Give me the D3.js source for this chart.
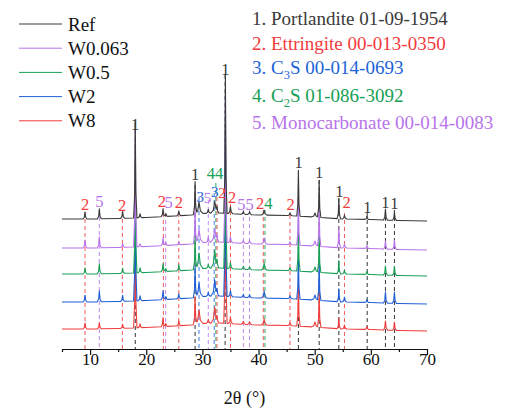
<!DOCTYPE html>
<html>
<head>
<meta charset="utf-8">
<script src="https://cdn.jsdelivr.net/npm/d3@7"></script>
<style>
  html, body { margin: 0; padding: 0; background: #fff; }
  svg { display: block; }
  svg text { font-family: "Liberation Serif", "Times New Roman", serif; }
</style>
</head>
<body>
<svg id="chart" width="505" height="409"></svg>
<script>
// ---- data ----
const seriesNames = ["Ref", "W0.063", "W0.5", "W2", "W8"];

// peak positions (2θ, degrees) and half widths shared by all patterns
const peakAngles = [9.1, 11.65, 15.8, 18.05, 18.9, 23.0, 23.5, 25.8, 28.7, 29.4, 31.05, 32.2, 32.6,
                    34.1, 35.0, 37.3, 38.4, 41.0, 45.6, 47.1, 50.05, 50.8, 54.3, 55.3, 59.3, 62.6, 64.2];
const peakHalfWidths = [0.35, 0.35, 0.35, 0.3, 0.35, 0.35, 0.3, 0.35, 0.3, 0.7, 0.4, 0.7, 0.3,
                        0.3, 0.4, 0.4, 0.4, 0.5, 0.4, 0.3, 0.6, 0.3, 0.3, 0.4, 0.35, 0.35, 0.35];

// peak intensities (a.u.) per pattern
const peaksRef    = [7, 10, 7, 97, 4, 8, 3, 5, 33, 12, 4, 12, 5, 139, 7, 3, 3, 5, 3, 45, 4, 37, 20, 4, 3, 11, 8];
const peaksW0063  = [8, 11, 4, 118, 3, 8, 3, 3, 35, 14, 5, 14, 5, 150, 6, 3, 3, 6, 3, 48, 5, 40, 20, 4, 3, 8, 9];
const peaksW05    = [6, 10, 5, 110, 5, 8, 3, 6, 34, 16, 4, 18, 6, 150, 6, 3, 3, 7, 3, 46, 5, 38, 13, 4, 3, 9, 9];
const peaksW2     = [7, 11, 6, 120, 5, 9, 3, 5, 32, 14, 4, 16, 5, 160, 6, 3, 3, 7, 3, 46, 5, 38, 13, 5, 3, 11, 11];
const peaksW8     = [6, 6, 4, 105, 4, 9, 3, 5, 28, 14, 4, 16, 5, 150, 6, 3, 3, 6, 3, 44, 5, 36, 11, 4, 3, 9, 8];
const seriesPeaks = [peaksRef, peaksW0063, peaksW05, peaksW2, peaksW8];

// amorphous background (a.u.), shared shape
const bgAngles = [5, 10, 15, 20, 25, 28, 30, 33, 36, 40, 45, 50, 55, 60, 65, 70];
const bgLevels = [0, 0, 0.5, 1.5, 3, 4, 5.5, 6, 5, 4, 3.5, 2, 0, -0.5, -1.5, -2];

// phase reference lines: 2θ, phase number, top (a.u.)
const refAngles = [9.1, 11.65, 15.75, 18.05, 23.05, 23.45, 25.8, 28.7, 29.4, 31.05, 32.1, 32.4, 32.6,
                   34.05, 35.0, 37.3, 38.4, 40.85, 41.15, 45.6, 47.1, 50.8, 54.3, 55.3, 59.35, 62.6, 64.2];
const refPhases = [2, 5, 2, 1, 2, 5, 2, 1, 3, 5, 3, 4, 2, 1, 2, 5, 5, 2, 4, 2, 1, 1, 1, 2, 1, 1, 1];
const refTops   = [137, 139, 137, 226, 136, 136, 136, 164, 152, 149, 156, 166, 152,
                   274, 145, 139, 139, 139, 139, 134, 179, 169, 151, 136, 136, 139, 139];

// peak labels: text, phase number, 2θ, baseline (a.u.), font size
const labelTexts  = ["2", "5", "2", "1", "2", "5", "2", "1", "3", "5", "3", "2", "44",
                     "2", "1", "55", "2", "4", "2", "1", "1", "1", "2", "1", "1", "1"];
const labelPhases = [2, 5, 2, 1, 2, 5, 2, 1, 3, 5, 3, 2, 4, 2, 1, 5, 2, 4, 2, 1, 1, 1, 2, 1, 1, 1];
const labelAngles = [9.1, 11.65, 15.7, 18.0, 22.8, 24.0, 25.8, 28.7, 29.6, 30.92, 32.22, 33.5, 32.25,
                     35.3, 34.1, 37.7, 40.3, 41.75, 45.7, 47.15, 50.8, 54.4, 55.7, 59.4, 62.6, 64.2];
const labelLevels = [139, 142, 138, 219, 142, 141, 141, 169, 147, 146, 152, 151, 170,
                     146, 274, 139, 140, 140, 139, 181, 171, 152, 141, 136, 141, 140];
const labelSizes  = [16.5, 16.5, 16.5, 16.5, 16.5, 16.5, 16.5, 16.5, 15, 15, 15, 15, 16.5,
                     16.5, 16.5, 16.5, 16.5, 16.5, 16.5, 16.5, 16.5, 16.5, 16.5, 16.5, 16.5, 16.5];

const xTicks = [10, 20, 30, 40, 50, 60, 70];
const xMinorTicks = [5, 15, 25, 35, 45, 55, 65];

// ---- styles ----
const FONT = "'Liberation Serif', 'Times New Roman', serif";
const seriesColors = ["#3a3a3a", "#b873ea", "#17a055", "#1f5fd6", "#f03c3c"];
const stackOffset = [130, 101, 75, 47, 20];
const phaseColors = { 1: "#3a3a3a", 2: "#f23b3b", 3: "#1c62d8", 4: "#17a055", 5: "#b873ea" };
const lineColors  = { 1: "#333333", 2: "#f25a5a", 3: "#3a7ae6", 4: "#2aa864", 5: "#c08af0" };

const svg = d3.select("#chart").attr("font-family", FONT);
const x = d3.scaleLinear().domain([5, 70]).range([62, 427]);
const y = d3.scaleLinear().domain([0, 340]).range([349, 9]);

// background level at a given angle
const bgAt = d3.scaleLinear().domain(bgAngles).range(bgLevels).clamp(true);

// build one pattern: background plus piecewise-linear peak profiles
function pattern(heights, offset) {
  const xs = new Set(bgAngles);
  peakAngles.forEach((p, i) => {
    const w = peakHalfWidths[i];
    [-1, -0.35, 0, 0.35, 1].forEach(f => xs.add(+(p + f * w).toFixed(4)));
  });
  const pts = Array.from(xs).sort((a, b) => a - b);
  return pts.map(t => {
    let v = offset + bgAt(t);
    peakAngles.forEach((p, i) => {
      const w = peakHalfWidths[i], h = heights[i];
      const d = Math.abs(t - p) / w;
      if (d < 1) {
        v += d <= 0.35 ? h - 0.75 * h * (d / 0.35) : 0.25 * h * (1 - d) / 0.65;
      }
    });
    return [t, v];
  });
}

// phase reference lines
const refG = svg.append("g");
refAngles.forEach((a, i) => {
  refG.append("line")
    .attr("x1", x(a)).attr("x2", x(a))
    .attr("y1", y(refTops[i])).attr("y2", y(0))
    .attr("stroke", lineColors[refPhases[i]])
    .attr("stroke-width", 1)
    .attr("stroke-dasharray", "4,3");
});

// diffraction patterns (lowest drawn first)
const line = d3.line().x(d => x(d[0])).y(d => y(d[1]));
const patG = svg.append("g");
for (let s = seriesNames.length - 1; s >= 0; s--) {
  patG.append("path")
    .datum(pattern(seriesPeaks[s], stackOffset[s]))
    .attr("d", line)
    .attr("fill", "none")
    .attr("stroke", seriesColors[s])
    .attr("stroke-width", 1.1)
    .attr("stroke-linejoin", "round");
}

// peak labels
const lblG = svg.append("g");
labelAngles.forEach((a, i) => {
  lblG.append("text")
    .attr("x", x(a)).attr("y", y(labelLevels[i]))
    .attr("text-anchor", "middle")
    .attr("font-family", FONT)
    .attr("font-size", labelSizes[i])
    .attr("fill", phaseColors[labelPhases[i]])
    .text(labelTexts[i]);
});

// x axis
const axisG = svg.append("g").attr("transform", `translate(0,${y(0)})`);
axisG.call(d3.axisBottom(x).tickValues(xTicks).tickSize(6).tickSizeOuter(0).tickFormat(d3.format("d")));
axisG.attr("font-family", FONT);
axisG.select(".domain").attr("stroke", "#111").attr("stroke-width", 1.2);
axisG.selectAll(".tick line").attr("stroke", "#111").attr("stroke-width", 1.2);
axisG.selectAll(".tick text")
  .attr("y", 16).attr("dy", 0)
  .attr("font-size", 17)
  .attr("font-family", FONT)
  .attr("fill", "#111");
const minorG = svg.append("g").attr("transform", `translate(0,${y(0)})`);
minorG.call(d3.axisBottom(x).tickValues(xMinorTicks).tickSize(3).tickSizeOuter(0).tickFormat(""));
minorG.select(".domain").remove();
minorG.selectAll(".tick line").attr("stroke", "#111").attr("stroke-width", 1.2);

svg.append("text")
  .attr("x", 244.5).attr("y", 404)
  .attr("text-anchor", "middle")
  .attr("font-family", FONT)
  .attr("font-size", 18)
  .attr("fill", "#111")
  .text("2θ (°)");

// legend
const legG = svg.append("g");
seriesNames.forEach((n, i) => {
  const ly = 24 + i * 24.2;
  legG.append("line")
    .attr("x1", 19).attr("x2", 62).attr("y1", ly).attr("y2", ly)
    .attr("stroke", seriesColors[i]).attr("stroke-width", 1);
  legG.append("text")
    .attr("x", 68).attr("y", ly + 6.5)
    .attr("font-family", FONT)
    .attr("font-size", 19)
    .attr("fill", "#111")
    .text(n);
});

// phase identification list
const phaseRows = [
  { n: 1, parts: [["1. Portlandite 01-09-1954"]] },
  { n: 2, parts: [["2. Ettringite 00-013-0350"]] },
  { n: 3, parts: [["3. C"], ["3", "sub"], ["S 00-014-0693"]] },
  { n: 4, parts: [["4. C"], ["2", "sub"], ["S 01-086-3092"]] },
  { n: 5, parts: [["5. Monocarbonate 00-014-0083"]] }
];
const rowBaselines = [25, 49.5, 74, 101.5, 128.5];
const listG = svg.append("g");
phaseRows.forEach((r, i) => {
  const t = listG.append("text")
    .attr("x", 252).attr("y", rowBaselines[i])
    .attr("font-family", FONT)
    .attr("font-size", 19)
    .attr("fill", phaseColors[r.n]);
  r.parts.forEach((p, k) => {
    const ts = t.append("tspan").text(p[0]);
    if (p[1] === "sub") {
      ts.attr("font-size", 12.5).attr("dy", 5);
    } else if (k > 0) {
      ts.attr("dy", -5);
    }
  });
});
</script>
</body>
</html>
